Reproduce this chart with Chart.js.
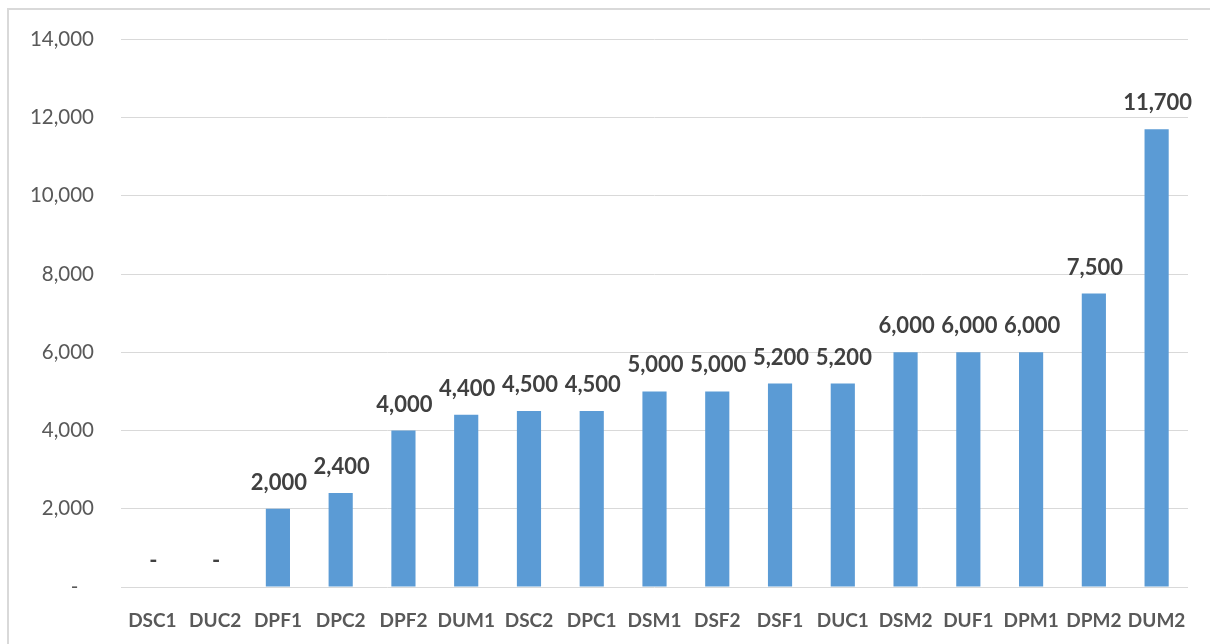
<!DOCTYPE html>
<html>
<head>
<meta charset="utf-8">
<script src="https://cdn.jsdelivr.net/npm/chart.js@4/dist/chart.umd.min.js"></script>
<style>
  html, body { margin: 0; padding: 0; background: #fff; }
  #frame { position: absolute; left: 7px; top: 8px; width: 1220px; height: 660px;
           border-left: 2px solid #d9d9d9; border-top: 2px solid #d9d9d9; box-sizing: border-box; }
  #wrap { position: absolute; left: 0; top: 0; width: 1210px; height: 644px; }
</style>
</head>
<body>
<div id="frame"></div>
<div id="wrap"><canvas id="c" width="1210" height="644"></canvas></div>
<script>
const categories = ['DSC1','DUC2','DPF1','DPC2','DPF2','DUM1','DSC2','DPC1','DSM1','DSF2','DSF1','DUC1','DSM2','DUF1','DPM1','DPM2','DUM2'];
const values = [0,0,2000,2400,4000,4400,4500,4500,5000,5000,5200,5200,6000,6000,6000,7500,11700];
const yTicks = [0,2000,4000,6000,8000,10000,12000,14000];

const FONT = 'Lato, "Open Sans", sans-serif';
const fmt = v => v === 0 ? '-' : v.toLocaleString('en-US');

const labelPlugin = {
  id: 'barLabels',
  afterDatasetsDraw(chart) {
    const ctx = chart.ctx;
    const meta = chart.getDatasetMeta(0);
    ctx.save();
    ctx.font = 'bold 22px ' + FONT;
    ctx.fillStyle = '#404040';
    ctx.textAlign = 'center';
    ctx.textBaseline = 'alphabetic';
    meta.data.forEach((bar, i) => {
      ctx.fillText(fmt(values[i]), bar.x + 1, bar.y - 19);
    });
    ctx.restore();
  }
};

new Chart(document.getElementById('c'), {
  type: 'bar',
  data: {
    labels: categories,
    datasets: [{
      data: values,
      backgroundColor: '#5b9bd5',
      borderWidth: 0,
      categoryPercentage: 1.0,
      barPercentage: 0.385
    }]
  },
  options: {
    responsive: false,
    animation: false,
    devicePixelRatio: 1,
    layout: { padding: { left: 0, top: 38, right: 22, bottom: 0 } },
    plugins: { legend: { display: false }, tooltip: { enabled: false } },
    scales: {
      x: {
        grid: { display: false, drawTicks: false },
        border: { display: false },
        ticks: { color: '#595959', font: { family: FONT, size: 19, weight: 'bold' }, padding: 22, maxRotation: 0, autoSkip: false },
        afterFit(s) { s.height = 57; }
      },
      y: {
        min: 0, max: 14000,
        afterBuildTicks(s) { s.ticks = yTicks.map(v => ({ value: v })); },
        grid: { color: '#d9d9d9', lineWidth: 1, drawTicks: false },
        border: { display: false },
        ticks: {
          color: '#595959', font: { family: FONT, size: 20.5 }, padding: 27,
          callback: v => v === 0 ? '-   ' : v.toLocaleString('en-US')
        },
        afterFit(s) { s.width = 121; }
      }
    }
  },
  plugins: [labelPlugin]
});
</script>
</body>
</html>
